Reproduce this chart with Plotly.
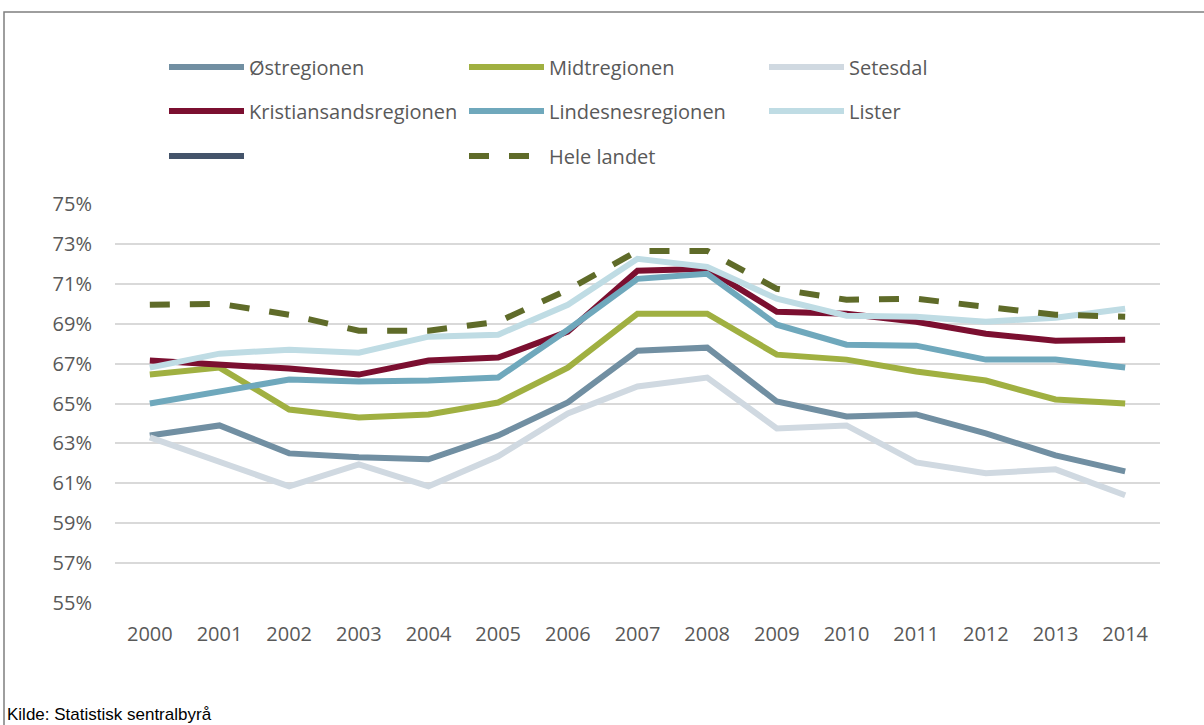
import plotly.graph_objects as go

years = [str(y) for y in range(2000, 2015)]

ostregionen = [63.4, 63.9, 62.5, 62.3, 62.2, 63.4, 65.05, 67.65, 67.8, 65.1, 64.35, 64.45, 63.5, 62.4, 61.6]
midtregionen = [66.45, 66.8, 64.7, 64.3, 64.45, 65.05, 66.8, 69.5, 69.5, 67.45, 67.2, 66.6, 66.15, 65.2, 65.0]
setesdal = [63.3, 62.1, 60.85, 61.95, 60.85, 62.35, 64.5, 65.85, 66.3, 63.75, 63.9, 62.05, 61.5, 61.7, 60.4]
kristiansand = [67.15, 66.95, 66.75, 66.45, 67.15, 67.3, 68.6, 71.65, 71.75, 69.6, 69.5, 69.1, 68.5, 68.15, 68.2]
lindesnes = [65.0, 65.6, 66.2, 66.1, 66.15, 66.3, 68.7, 71.25, 71.5, 68.95, 67.95, 67.9, 67.2, 67.2, 66.8]
lister = [66.8, 67.5, 67.7, 67.55, 68.35, 68.45, 69.95, 72.25, 71.85, 70.25, 69.4, 69.35, 69.1, 69.3, 69.75]
hele_landet = [69.95, 70.0, 69.45, 68.65, 68.65, 69.1, 70.7, 72.65, 72.65, 70.75, 70.2, 70.25, 69.85, 69.45, 69.35]

series = [
    ("Østregionen", ostregionen, "#718FA2", "solid", "legend"),
    ("Midtregionen", midtregionen, "#A0B041", "solid", "legend"),
    ("Setesdal", setesdal, "#D0D9E1", "solid", "legend"),
    ("Kristiansandsregionen", kristiansand, "#7B0F30", "solid", "legend2"),
    ("Lindesnesregionen", lindesnes, "#6FA8BC", "solid", "legend2"),
    ("Lister", lister, "#BFDCE4", "solid", "legend2"),
    ("", [None] * len(years), "#44546A", "solid", "legend3"),
    ("Hele landet", hele_landet, "#5F6B29", "20px,20px", "legend3"),
]

fig = go.Figure()
for name, vals, color, dash, leg in series:
    fig.add_trace(go.Scatter(
        x=years, y=vals, name=name, mode="lines",
        line=dict(color=color, width=6, dash=dash),
        legend=leg, showlegend=True,
    ))

W, H = 1204, 725
ml, mr, mt, mb = 115, 44, 204, 122
pw = W - ml - mr
ph = H - mt - mb

def px2x(p):
    return (p - ml) / pw

def py2y(p):
    return (H - mb - p) / ph

legfont = dict(family="Open Sans, sans-serif", size=20, color="#595959")
common = dict(orientation="h", xanchor="left", yanchor="middle", itemwidth=75,
              entrywidth=210, font=legfont, bgcolor="rgba(0,0,0,0)",
              traceorder="normal", itemclick=False, itemdoubleclick=False)

fig.update_layout(
    width=W, height=H,
    margin=dict(l=ml, r=mr, t=mt, b=mb),
    paper_bgcolor="white", plot_bgcolor="white",
    font=legfont,
    legend=dict(x=px2x(164), y=py2y(67), **common),
    legend2=dict(x=px2x(164), y=py2y(111), **common),
    legend3=dict(x=px2x(164), y=py2y(156), **common),
    xaxis=dict(type="category", range=[-0.5, len(years) - 0.5], showgrid=False,
               showline=False, zeroline=False,
               ticks="", ticklabelstandoff=17, tickfont=legfont),
    yaxis=dict(range=[55, 75], tickvals=list(range(55, 76, 2)),
               ticktext=[f"{v}%" for v in range(55, 76, 2)],
               showgrid=True, gridcolor="#D9D9D9", gridwidth=2, zeroline=False,
               showline=False, ticks="", ticklabelstandoff=22, tickfont=legfont),
    shapes=[dict(type="rect", xref="paper", yref="paper",
                 x0=px2x(4), x1=px2x(1215), y0=py2y(760), y1=py2y(12),
                 line=dict(color="#7F7F7F", width=1.5), fillcolor="rgba(0,0,0,0)",
                 layer="below")],
    annotations=[dict(text="Kilde: Statistisk sentralbyrå", xref="paper", yref="paper",
                      x=px2x(5), y=py2y(714), xanchor="left", yanchor="middle",
                      showarrow=False,
                      font=dict(family="Liberation Sans Narrow, Arial Narrow, sans-serif",
                                size=17, color="#000000"))],
)

fig.write_html("out.html", config={"displayModeBar": False},
               post_script="document.body.style.margin='0';document.body.style.overflow='hidden';")
